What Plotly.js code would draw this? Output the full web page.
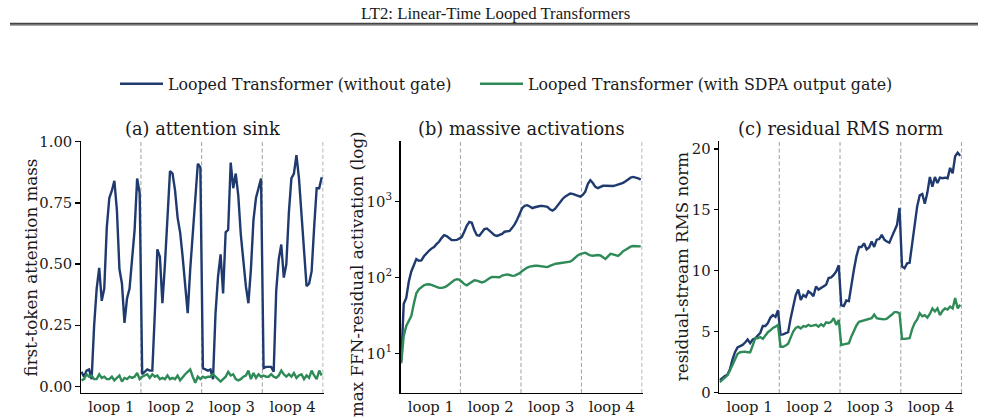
<!DOCTYPE html>
<html>
<head>
<meta charset="utf-8">
<script src="https://cdn.plot.ly/plotly-3.0.1.min.js"></script>
<style>
html,body{margin:0;padding:0;background:#fff;}
#chart{width:988px;height:418px;}
</style>
</head>
<body>
<div id="chart"></div>
<script>
// ---- data ----
const seriesNames = ['Looped Transformer (without gate)', 'Looped Transformer (with SDPA output gate)'];
const loopTickVals = [11.75, 35.5, 59.5, 83.5];
const loopTickText = ['loop 1', 'loop 2', 'loop 3', 'loop 4'];
const loopBoundaries = [23.5, 47.5, 71.5, 95.5];
const logMajorVals = [10, 100, 1000];
const logMajorText = ['10<sup>1</sup>', '10<sup>2</sup>', '10<sup>3</sup>'];
const logMinorVals = [4,5,6,7,8,9,20,30,40,50,60,70,80,90,200,300,400,500,600,700,800,900,2000,3000,4000,5000,6000];

// (a) first-token attention mass, 4 loops x 24 layers
const sinkNoGate = [
  0.06,0.04,0.065,0.07,0.03,0.25,0.40,0.485,0.35,0.40,0.65,0.77,0.80,0.84,0.72,0.48,0.42,0.26,0.36,0.40,0.52,0.64,0.85,0.79,
  0.05,0.06,0.07,0.065,0.065,0.30,0.56,0.53,0.34,0.50,0.70,0.88,0.87,0.80,0.69,0.63,0.53,0.40,0.30,0.48,0.62,0.76,0.91,0.895,
  0.075,0.07,0.065,0.07,0.03,0.30,0.45,0.54,0.38,0.63,0.64,0.915,0.81,0.87,0.78,0.62,0.50,0.41,0.34,0.48,0.68,0.77,0.81,0.85,
  0.075,0.08,0.08,0.08,0.06,0.39,0.52,0.58,0.445,0.50,0.71,0.85,0.87,0.945,0.85,0.69,0.54,0.41,0.42,0.47,0.65,0.81,0.81,0.855
];
const sinkGate = [
  0.025,0.03,0.05,0.04,0.045,0.03,0.03,0.05,0.035,0.04,0.03,0.03,0.04,0.025,0.035,0.045,0.02,0.035,0.03,0.04,0.035,0.04,0.055,0.03,
  0.04,0.045,0.05,0.035,0.05,0.04,0.045,0.03,0.035,0.03,0.045,0.03,0.035,0.03,0.045,0.025,0.04,0.05,0.06,0.07,0.04,0.015,0.04,0.03,
  0.04,0.035,0.04,0.04,0.05,0.04,0.03,0.02,0.03,0.04,0.06,0.045,0.05,0.03,0.025,0.03,0.04,0.045,0.065,0.03,0.055,0.035,0.05,0.04,
  0.045,0.04,0.04,0.05,0.04,0.035,0.045,0.065,0.05,0.04,0.05,0.04,0.055,0.035,0.045,0.05,0.03,0.045,0.035,0.065,0.045,0.03,0.065,0.045
];

// (b) max FFN-residual activation
const actNoGate = [
  7.8,45,54,88,120,146,175,166,168,190,210,225,240,252,275,295,330,360,350,325,311,310,312,325,
  340,400,480,540,525,420,360,355,400,435,442,410,380,360,352,360,375,400,405,410,450,500,580,680,
  820,880,895,860,820,840,865,873,875,870,850,790,760,800,890,980,1080,1160,1230,1275,1260,1220,1180,1160,
  1220,1350,1700,1910,1750,1560,1500,1560,1610,1615,1600,1600,1600,1630,1670,1700,1760,1850,1950,2060,2110,2080,2020,1940
];
const actGate = [
  7.4,17,23,27,31,45,62,70,75,79,81,81.5,80,78,75,73,73,74,77,82,87,92,95,94,
  88,82,79,83,87,92,91,88,86,88,94,98,102,102,100,101,106,109,110,108,105,106,109,114,
  122,129,135,139,142,143,143,141,138,136,137,142,148,151,153,155,157,158,160,162,170,185,195,203,
  210,212,203,195,193,196,198,195,182,175,190,205,202,195,192,205,222,232,245,255,260,259,258,257
];

// (c) residual-stream RMS norm
const rmsNoGate = [
  1.0,1.2,1.35,1.45,1.9,2.7,3.3,3.7,3.8,3.9,4.1,4.35,4.05,4.35,4.45,4.7,4.9,5.45,5.45,5.7,6.15,6.35,6.2,6.75,
  4.75,4.77,4.85,4.95,6.1,7.2,8.0,8.45,7.6,8.0,7.85,8.3,8.15,7.9,8.7,8.45,8.6,8.7,8.85,9.4,9.45,9.65,9.95,10.45,
  7.15,7.1,7.55,7.5,8.9,10.1,11.2,11.95,11.95,12.25,11.75,11.9,12.4,11.95,12.55,12.6,12.95,12.55,12.4,12.3,12.8,13.35,13.75,15.15,
  10.35,10.2,10.6,10.65,12.2,14.0,15.3,16.2,16.3,15.5,16.4,17.7,16.9,17.7,17.2,17.65,17.6,17.65,17.6,18.45,18.0,19.4,19.7,19.45
];
const rmsGate = [
  0.85,1.05,1.25,1.4,1.8,2.3,2.75,3.15,3.3,3.35,3.35,3.3,3.3,3.85,4.45,4.45,4.55,4.4,4.7,4.95,5.1,5.3,5.4,5.55,
  3.75,3.75,3.85,4.0,4.5,5.0,5.3,5.4,5.25,5.45,5.4,5.55,5.45,5.5,5.55,5.4,5.6,5.45,5.75,5.7,5.8,6.1,5.55,5.95,
  3.9,3.95,4.0,4.05,4.6,5.1,5.5,5.8,5.85,5.9,5.95,6.0,6.1,6.4,6.1,6.05,6.0,6.0,6.05,6.2,6.4,6.6,6.6,6.5,
  4.4,4.4,4.4,4.45,5.2,5.7,6.0,6.5,6.25,6.35,6.15,6.45,6.9,6.65,6.9,6.35,6.7,6.9,6.8,7.05,6.9,7.75,6.9,7.2
];

const layerIndex = sinkNoGate.map((_, i) => i);

// ---- styling ----
const NAVY = '#1f3a6e';
const GREEN = '#2e8b57';
const FONT = 'DejaVu Serif, serif';
const TXT = '#1a1a1a';
const W = 988, H = 418;
const px = v => v / W;
const py = v => 1 - v / H;

function trace(y, name, color, xa, ya, show, leg) {
  const t = {x: layerIndex, y: y, name: name, type: 'scatter', mode: 'lines',
    line: {color: color, width: 2.4}, xaxis: xa, yaxis: ya, showlegend: show, hoverinfo: 'skip'};
  if (leg) t.legend = leg;
  return t;
}
const data = [
  trace(sinkNoGate, seriesNames[0], NAVY, 'x', 'y', true, 'legend'),
  trace(sinkGate, seriesNames[1], GREEN, 'x', 'y', true, 'legend2'),
  trace(actNoGate, seriesNames[0], NAVY, 'x2', 'y2', false),
  trace(actGate, seriesNames[1], GREEN, 'x2', 'y2', false),
  trace(rmsNoGate, seriesNames[0], NAVY, 'x3', 'y3', false),
  trace(rmsGate, seriesNames[1], GREEN, 'x3', 'y3', false)
];

const yDom = [py(393), py(140.5)];
function xax(l, r) {
  return {domain: [px(l), px(r)], range: [-0.2, 95.7], showline: true, linecolor: '#000', linewidth: 1.25,
    ticks: '', tickvals: loopTickVals, ticktext: loopTickText, showgrid: false, zeroline: false,
    tickfont: {family: FONT, size: 14.8, color: TXT}, fixedrange: true};
}
function yax(extra) {
  return Object.assign({domain: yDom, showline: true, linecolor: '#000', linewidth: 1.25,
    ticks: 'outside', ticklen: 4.5, tickwidth: 1.25, tickcolor: '#000', showgrid: false, zeroline: false,
    tickfont: {family: FONT, size: 14.8, color: TXT}, fixedrange: true}, extra);
}

const shapes = [];
[['x','y'],['x2','y2'],['x3','y3']].forEach(([xa, ya]) => {
  loopBoundaries.forEach(b => shapes.push({type: 'line', xref: xa, yref: ya + ' domain', x0: b, x1: b, y0: 0, y1: 1,
    line: {color: '#a8a8a8', width: 1.1, dash: '4px,2.5px'}, layer: 'below'}));
});
// header rule
shapes.push({type: 'line', xref: 'paper', yref: 'paper', x0: px(10), x1: px(978), y0: py(23.8), y1: py(23.8),
  line: {color: '#444', width: 2}});
shapes.push({type: 'line', xref: 'paper', yref: 'paper', x0: px(10), x1: px(978), y0: py(25.5), y1: py(25.5),
  line: {color: '#a8a8a8', width: 1}});

const annotations = [
  {text: 'LT2: Linear-Time Looped Transformers', xref: 'paper', yref: 'paper', x: px(495), y: py(13.5), xanchor: 'center', yanchor: 'middle',
    showarrow: false, font: {family: 'Liberation Serif, serif', size: 16.8, color: TXT}},
  {text: '(a) attention sink', xref: 'paper', yref: 'paper', x: px(202), y: py(128), xanchor: 'center', yanchor: 'middle',
    showarrow: false, font: {family: FONT, size: 17.8, color: TXT}},
  {text: '(b) massive activations', xref: 'paper', yref: 'paper', x: px(521.5), y: py(128), xanchor: 'center', yanchor: 'middle',
    showarrow: false, font: {family: FONT, size: 17.8, color: TXT}},
  {text: '(c) residual RMS norm', xref: 'paper', yref: 'paper', x: px(840.5), y: py(128), xanchor: 'center', yanchor: 'middle',
    showarrow: false, font: {family: FONT, size: 17.8, color: TXT}},
  {text: 'first-token attention mass', xref: 'paper', yref: 'paper', x: px(30), y: py(267.5), xanchor: 'center', yanchor: 'middle',
    textangle: -90, showarrow: false, font: {family: FONT, size: 16.7, color: TXT}},
  {text: 'max FFN-residual activation (log)', xref: 'paper', yref: 'paper', x: px(357), y: py(274), xanchor: 'center', yanchor: 'middle',
    textangle: -90, showarrow: false, font: {family: FONT, size: 16.7, color: TXT}},
  {text: 'residual-stream RMS norm', xref: 'paper', yref: 'paper', x: px(681.5), y: py(266.7), xanchor: 'center', yanchor: 'middle',
    textangle: -90, showarrow: false, font: {family: FONT, size: 16.7, color: TXT}}
];

function legendAt(xpx) {
  return {orientation: 'h', x: px(xpx), y: py(84), xanchor: 'left', yanchor: 'middle',
    font: {family: FONT, size: 15.8, color: TXT}, bgcolor: 'rgba(0,0,0,0)', borderwidth: 0, itemwidth: 43};
}

const logRange = [0.48, 3.803];
const layout = {
  width: W, height: H, margin: {l: 0, r: 0, t: 0, b: 0},
  paper_bgcolor: '#fff', plot_bgcolor: 'rgba(0,0,0,0)',
  font: {family: FONT, color: TXT},
  showlegend: true,
  legend: legendAt(115),
  legend2: legendAt(475),
  xaxis: xax(81, 323.5),
  yaxis: yax({range: [-0.0266, 1.005], tickvals: [0, 0.25, 0.5, 0.75, 1], ticktext: ['0.00','0.25','0.50','0.75','1.00']}),
  xaxis2: xax(400.7, 642.5),
  yaxis2: yax({type: 'log', range: logRange, tickvals: logMajorVals, ticktext: logMajorText}),
  // minor log ticks drawn by an overlaid axis sharing the same scale
  yaxis4: {type: 'log', range: logRange, domain: yDom, overlaying: 'y2', anchor: 'x2', side: 'left',
    tickmode: 'array', tickvals: logMinorVals, ticks: 'outside', ticklen: 2.6, tickwidth: 0.9, tickcolor: '#000',
    showticklabels: false, showline: false, showgrid: false, zeroline: false, fixedrange: true},
  xaxis3: xax(719.3, 962),
  yaxis3: yax({range: [-0.05, 20.7], tickvals: [0, 5, 10, 15, 20]}),
  shapes: shapes,
  annotations: annotations
};
layout.xaxis2.anchor = 'y2'; layout.yaxis2.anchor = 'x2';
layout.xaxis3.anchor = 'y3'; layout.yaxis3.anchor = 'x3';

Plotly.newPlot('chart', data, layout, {staticPlot: true, displayModeBar: false});
</script>
</body>
</html>
